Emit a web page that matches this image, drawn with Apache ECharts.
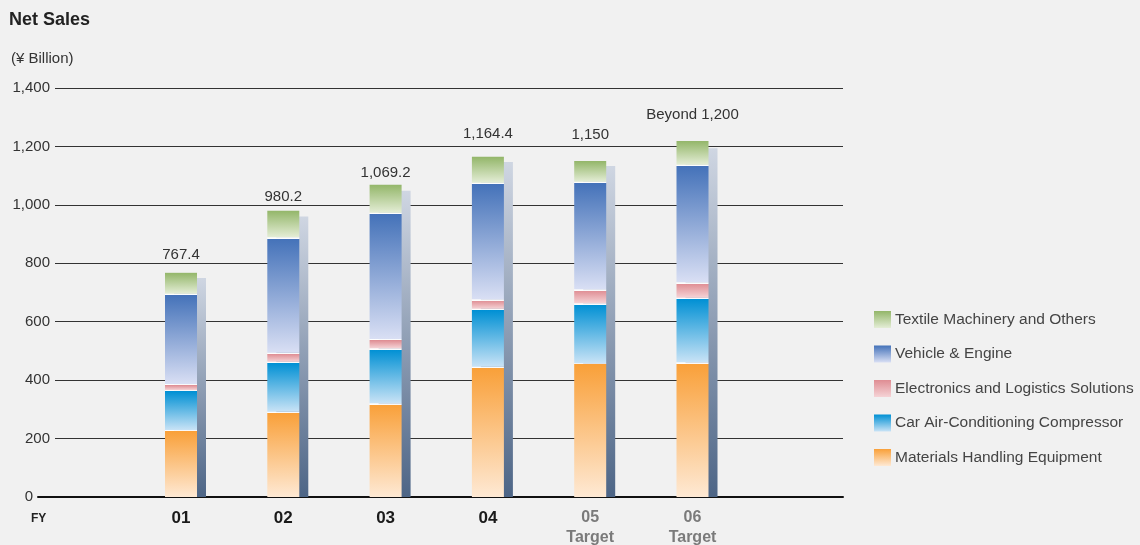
<!DOCTYPE html>
<html>
<head>
<meta charset="utf-8">
<script src="https://cdn.jsdelivr.net/npm/echarts/dist/echarts.min.js"></script>
<style>
html,body{margin:0;padding:0;background:#f1f1f1;}
#chart{width:1140px;height:545px;}
</style>
</head>
<body>
<div id="chart"></div>
<script>
// ---------- DATA ----------
const categories = ['01', '02', '03', '04', '05', '06'];
const tickLabels = ['01', '02', '03', '04', '05\nTarget', '06\nTarget'];
const materialsHandling = [229, 292, 321, 446, 458, 461];
const carAirCon = [137, 171, 188, 198, 205, 221];
const electronics = [21, 31, 32, 33, 48, 53];
const vehicleEngine = [309, 395, 432, 399, 368, 402];
const textileOthers = [71.4, 91.2, 96.2, 88.4, 71, 82];
const shadowTotals = [750, 960, 1048, 1147, 1133, 1194];
const totalLabels = ['767.4', '980.2', '1,069.2', '1,164.4', '1,150', 'Beyond 1,200'];

// ---------- STYLE ----------
const FONT = "'Liberation Sans', Arial, Helvetica, sans-serif";
const PLOT_TOP = 88, PLOT_BOTTOM = 48;
const PX = (545 - PLOT_TOP - PLOT_BOTTOM) / 1400;
const LABEL_GAP = [10, 6, 4.5, 15, 19, 19];

function grad(top, bottom, v, band) {
  const stops = [];
  if (band) {
    const s = Math.min(1.3 / (v * PX), 0.5);
    stops.push({offset: 0, color: 'rgba(255,255,255,0.95)'}, {offset: s, color: 'rgba(255,255,255,0.95)'}, {offset: s, color: top});
  } else {
    stops.push({offset: 0, color: top});
  }
  stops.push({offset: 1, color: bottom});
  return new echarts.graphic.LinearGradient(0, 0, 0, 1, stops);
}

const seriesDefs = [
  {name: 'Materials Handling Equipment', data: materialsHandling, top: '#f9a039', bottom: '#fee9d4', band: true},
  {name: 'Car Air-Conditioning Compressor', data: carAirCon, top: '#0090d4', bottom: '#c9e3f6', band: true},
  {name: 'Electronics and Logistics Solutions', data: electronics, top: '#df8d93', bottom: '#f5d3d6', band: true},
  {name: 'Vehicle & Engine', data: vehicleEngine, top: '#4472b9', bottom: '#d9dff4', band: true},
  {name: 'Textile Machinery and Others', data: textileOthers, top: '#93b669', bottom: '#e4edd6', band: false}
];

const chart = echarts.init(document.getElementById('chart'), null, {renderer: 'canvas'});

const barCenter0 = 181, step = 102.3;
const barsLeft = barCenter0 - step / 2;
const barsWidth = step * categories.length;

const yBase = {type: 'value', min: 0, max: 1400, interval: 200};

const series = seriesDefs.map((d, si) => ({
  name: d.name,
  type: 'bar',
  stack: 'total',
  xAxisIndex: 1,
  yAxisIndex: 1,
  barWidth: 32,
  z: 3,
  itemStyle: {color: grad(d.top, d.bottom, 1, false)},
  data: d.data.map((v, i) => {
    const item = {value: v, itemStyle: {color: grad(d.top, d.bottom, v, d.band)}};
    if (si === seriesDefs.length - 1) {
      item.label = {show: true, position: 'top', distance: LABEL_GAP[i],
        formatter: () => totalLabels[i], color: '#333', fontSize: 15, fontFamily: FONT};
    }
    return item;
  })
}));

series.unshift({
  name: 'shadow',
  type: 'bar',
  xAxisIndex: 2,
  yAxisIndex: 2,
  barWidth: 32,
  z: 1,
  silent: true,
  itemStyle: {color: new echarts.graphic.LinearGradient(0, 0, 0, 1, [
    {offset: 0, color: '#cfd6e2'}, {offset: 1, color: '#4d6586'}])},
  data: shadowTotals
});

const option = {
  backgroundColor: '#f1f1f1',
  animation: false,
  title: [
    {text: 'Net Sales', left: 9, top: 11, padding: 0, textStyle: {fontSize: 18, fontWeight: 'bold', color: '#222', fontFamily: FONT}},
    {text: '(¥ Billion)', left: 11, top: 51, padding: 0, textStyle: {fontSize: 15, fontWeight: 'normal', color: '#333', fontFamily: FONT}},
    {text: 'FY', left: 31, top: 513, padding: 0, textStyle: {fontSize: 12, fontWeight: 'bold', color: '#222', fontFamily: FONT}}
  ],
  legend: {
    orient: 'vertical',
    left: 874,
    top: 311,
    padding: 0,
    itemWidth: 17,
    itemHeight: 17,
    itemGap: 17.5,
    icon: 'rect',
    textStyle: {fontSize: 15.5, color: '#444', fontFamily: FONT, padding: [0, 0, 0, -1]},
    data: seriesDefs.slice().reverse().map(d => d.name)
  },
  grid: [
    {left: 55, right: 297, top: PLOT_TOP, bottom: PLOT_BOTTOM, outerBoundsMode: 'none', containLabel: false},
    {left: barsLeft, width: barsWidth, top: PLOT_TOP, bottom: PLOT_BOTTOM, outerBoundsMode: 'none', containLabel: false},
    {left: barsLeft + 9, width: barsWidth, top: PLOT_TOP, bottom: PLOT_BOTTOM, outerBoundsMode: 'none', containLabel: false},
    {left: 38, right: 297, top: PLOT_TOP, bottom: PLOT_BOTTOM, outerBoundsMode: 'none', containLabel: false}
  ],
  xAxis: [
    {gridIndex: 0, type: 'category', data: categories, show: false},
    {gridIndex: 1, type: 'category', data: tickLabels,
      axisLine: {show: false}, axisTick: {show: false},
      axisLabel: {margin: 11, interval: 0, lineHeight: 20,
        formatter: v => v.indexOf('Target') >= 0 ? '{t|' + v.split('\n').join('}\n{t|') + '}' : '{a|' + v + '}',
        rich: {
          a: {fontSize: 17, fontWeight: 'bold', color: '#1a1a1a', fontFamily: FONT, lineHeight: 20},
          t: {fontSize: 16, fontWeight: 'bold', color: '#7a7a7a', fontFamily: FONT, lineHeight: 20}
        }}},
    {gridIndex: 2, type: 'category', data: categories, show: false},
    {gridIndex: 3, type: 'category', data: categories,
      axisLine: {show: true, lineStyle: {color: '#111', width: 2}},
      axisTick: {show: false}, axisLabel: {show: false}}
  ],
  yAxis: [
    Object.assign({gridIndex: 0,
      axisLine: {show: false}, axisTick: {show: false},
      splitLine: {show: true, lineStyle: {color: '#333', width: 1}},
      axisLabel: {margin: 5, fontSize: 15, color: '#333', fontFamily: FONT,
        formatter: v => v === 0 ? '' : v.toLocaleString('en-US')}}, yBase),
    Object.assign({gridIndex: 1, show: false}, yBase),
    Object.assign({gridIndex: 2, show: false}, yBase),
    Object.assign({gridIndex: 3,
      axisLine: {show: false}, axisTick: {show: false}, splitLine: {show: false},
      axisLabel: {margin: 5, fontSize: 15, color: '#333', fontFamily: FONT,
        formatter: v => v === 0 ? '0' : ''}}, yBase)
  ],
  series: series
};

chart.setOption(option);
</script>
</body>
</html>
